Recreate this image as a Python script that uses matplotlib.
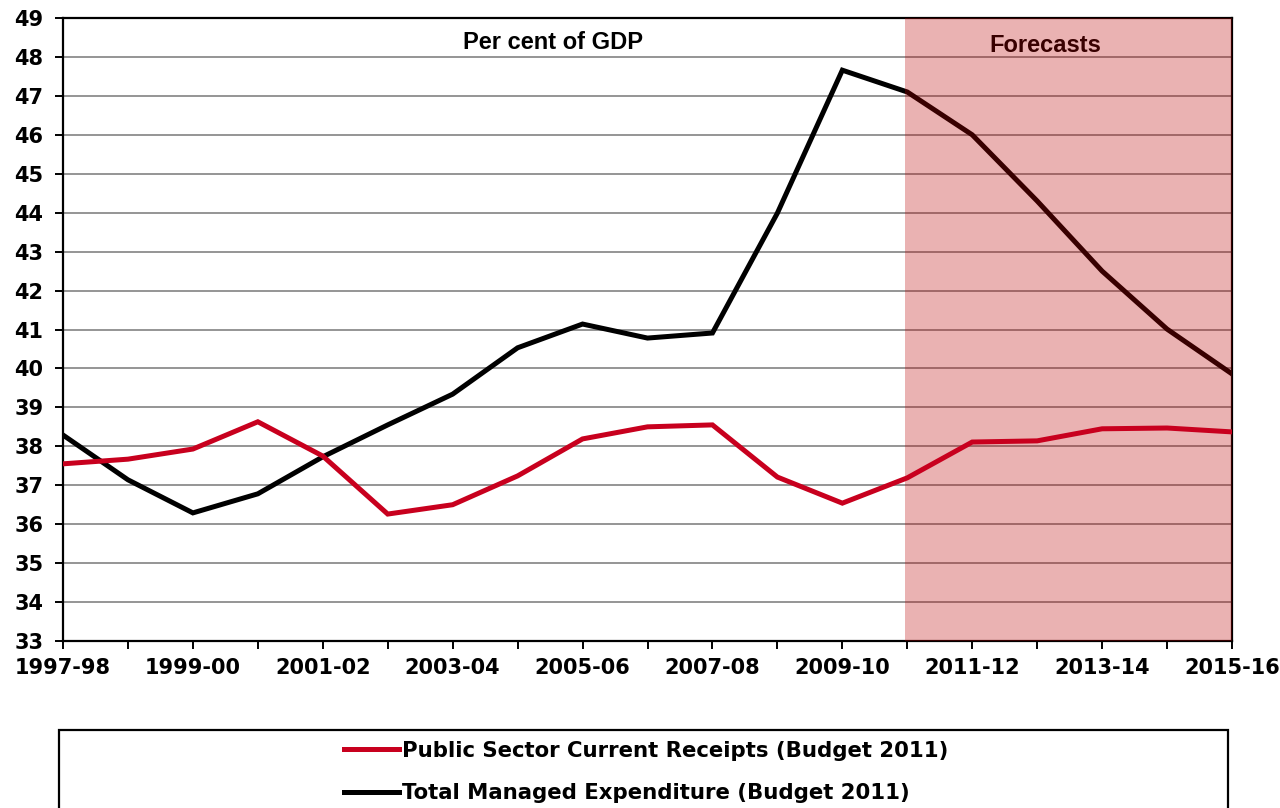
import matplotlib
matplotlib.use("Agg")
import matplotlib.pyplot as plt
from matplotlib.patches import Rectangle

years = ["1997-98", "1998-99", "1999-00", "2000-01", "2001-02", "2002-03",
         "2003-04", "2004-05", "2005-06", "2006-07", "2007-08", "2008-09",
         "2009-10", "2010-11", "2011-12", "2012-13", "2013-14", "2014-15",
         "2015-16"]
receipts = [37.55, 37.67, 37.93, 38.63, 37.75, 36.26, 36.50, 37.24, 38.19,
            38.50, 38.55, 37.21, 36.54, 37.19, 38.11, 38.14, 38.45, 38.47,
            38.37]
expenditure = [38.29, 37.14, 36.29, 36.78, 37.73, 38.55, 39.34, 40.53, 41.14,
               40.78, 40.91, 43.99, 47.66, 47.10, 46.00, 44.30, 42.50, 41.01,
               39.86]
forecast_from = "2010-11"
receipts_label = "Public Sector Current Receipts (Budget 2011)"
expenditure_label = "Total Managed Expenditure (Budget 2011)"

W, H = 1280, 808
fig = plt.figure(figsize=(W / 100, H / 100), dpi=100)
ax = fig.add_axes([63 / W, 1 - 641 / H, (1232 - 63) / W, (641 - 18) / H])

x = list(range(len(years)))
RED = "#C8001E"

ax.set_xlim(0, len(years) - 1)
ax.set_ylim(33, 49)
ax.set_yticks(range(33, 50))
ax.set_xticks(x)
ax.set_xticklabels([y if i % 2 == 0 else "" for i, y in enumerate(years)])

for lab in ax.get_xticklabels() + ax.get_yticklabels():
    lab.set_fontfamily("DejaVu Sans")
    lab.set_fontweight("bold")
    lab.set_fontsize(15)
    lab.set_color("black")

ax.tick_params(axis="x", direction="out", length=5.5, width=1.4, pad=7)
ax.tick_params(axis="y", direction="out", length=6, width=1.4, pad=8)

ax.yaxis.grid(True, color="#8c8c8c", linewidth=1.3, zorder=1)
ax.set_axisbelow(True)
for s in ax.spines.values():
    s.set_linewidth(1.6)
    s.set_color("black")

ax.plot(x, expenditure, color="black", linewidth=3.6, zorder=2,
        solid_joinstyle="miter", label=expenditure_label)

fi = years.index(forecast_from)
ax.axvspan(fi - 0.03, len(years) - 1, color="#BC0000", alpha=0.3,
           linewidth=0, zorder=3)

ax.plot(x, receipts, color=RED, linewidth=3.6, zorder=4,
        solid_joinstyle="miter", label=receipts_label)

ax.text(7.55, 48.36, "Per cent of GDP", ha="center", va="center",
        family="Liberation Sans", weight="bold", fontsize=17,
        color="black", zorder=5)
ax.text(15.12, 48.3, "Forecasts", ha="center", va="center",
        family="Liberation Sans", weight="bold", fontsize=17,
        color="#380000", zorder=5)

# legend frame (extends below figure edge like the reference)
fig.patches.append(Rectangle((59 / W, -0.05), (1228 - 59) / W,
                             (1 - 730 / H) + 0.05, transform=fig.transFigure,
                             fill=False, edgecolor="black", linewidth=1.6))

handles, labels = ax.get_legend_handles_labels()
leg = fig.legend(handles[::-1], labels[::-1], loc="center left",
                 bbox_to_anchor=(344 / W, 1 - 772 / H), frameon=False,
                 borderpad=0, borderaxespad=0, handlelength=2.6,
                 handletextpad=0.12, labelspacing=1.05,
                 prop=dict(family="DejaVu Sans", weight="bold", size=15.3))

fig.savefig("out.png", dpi=100)
